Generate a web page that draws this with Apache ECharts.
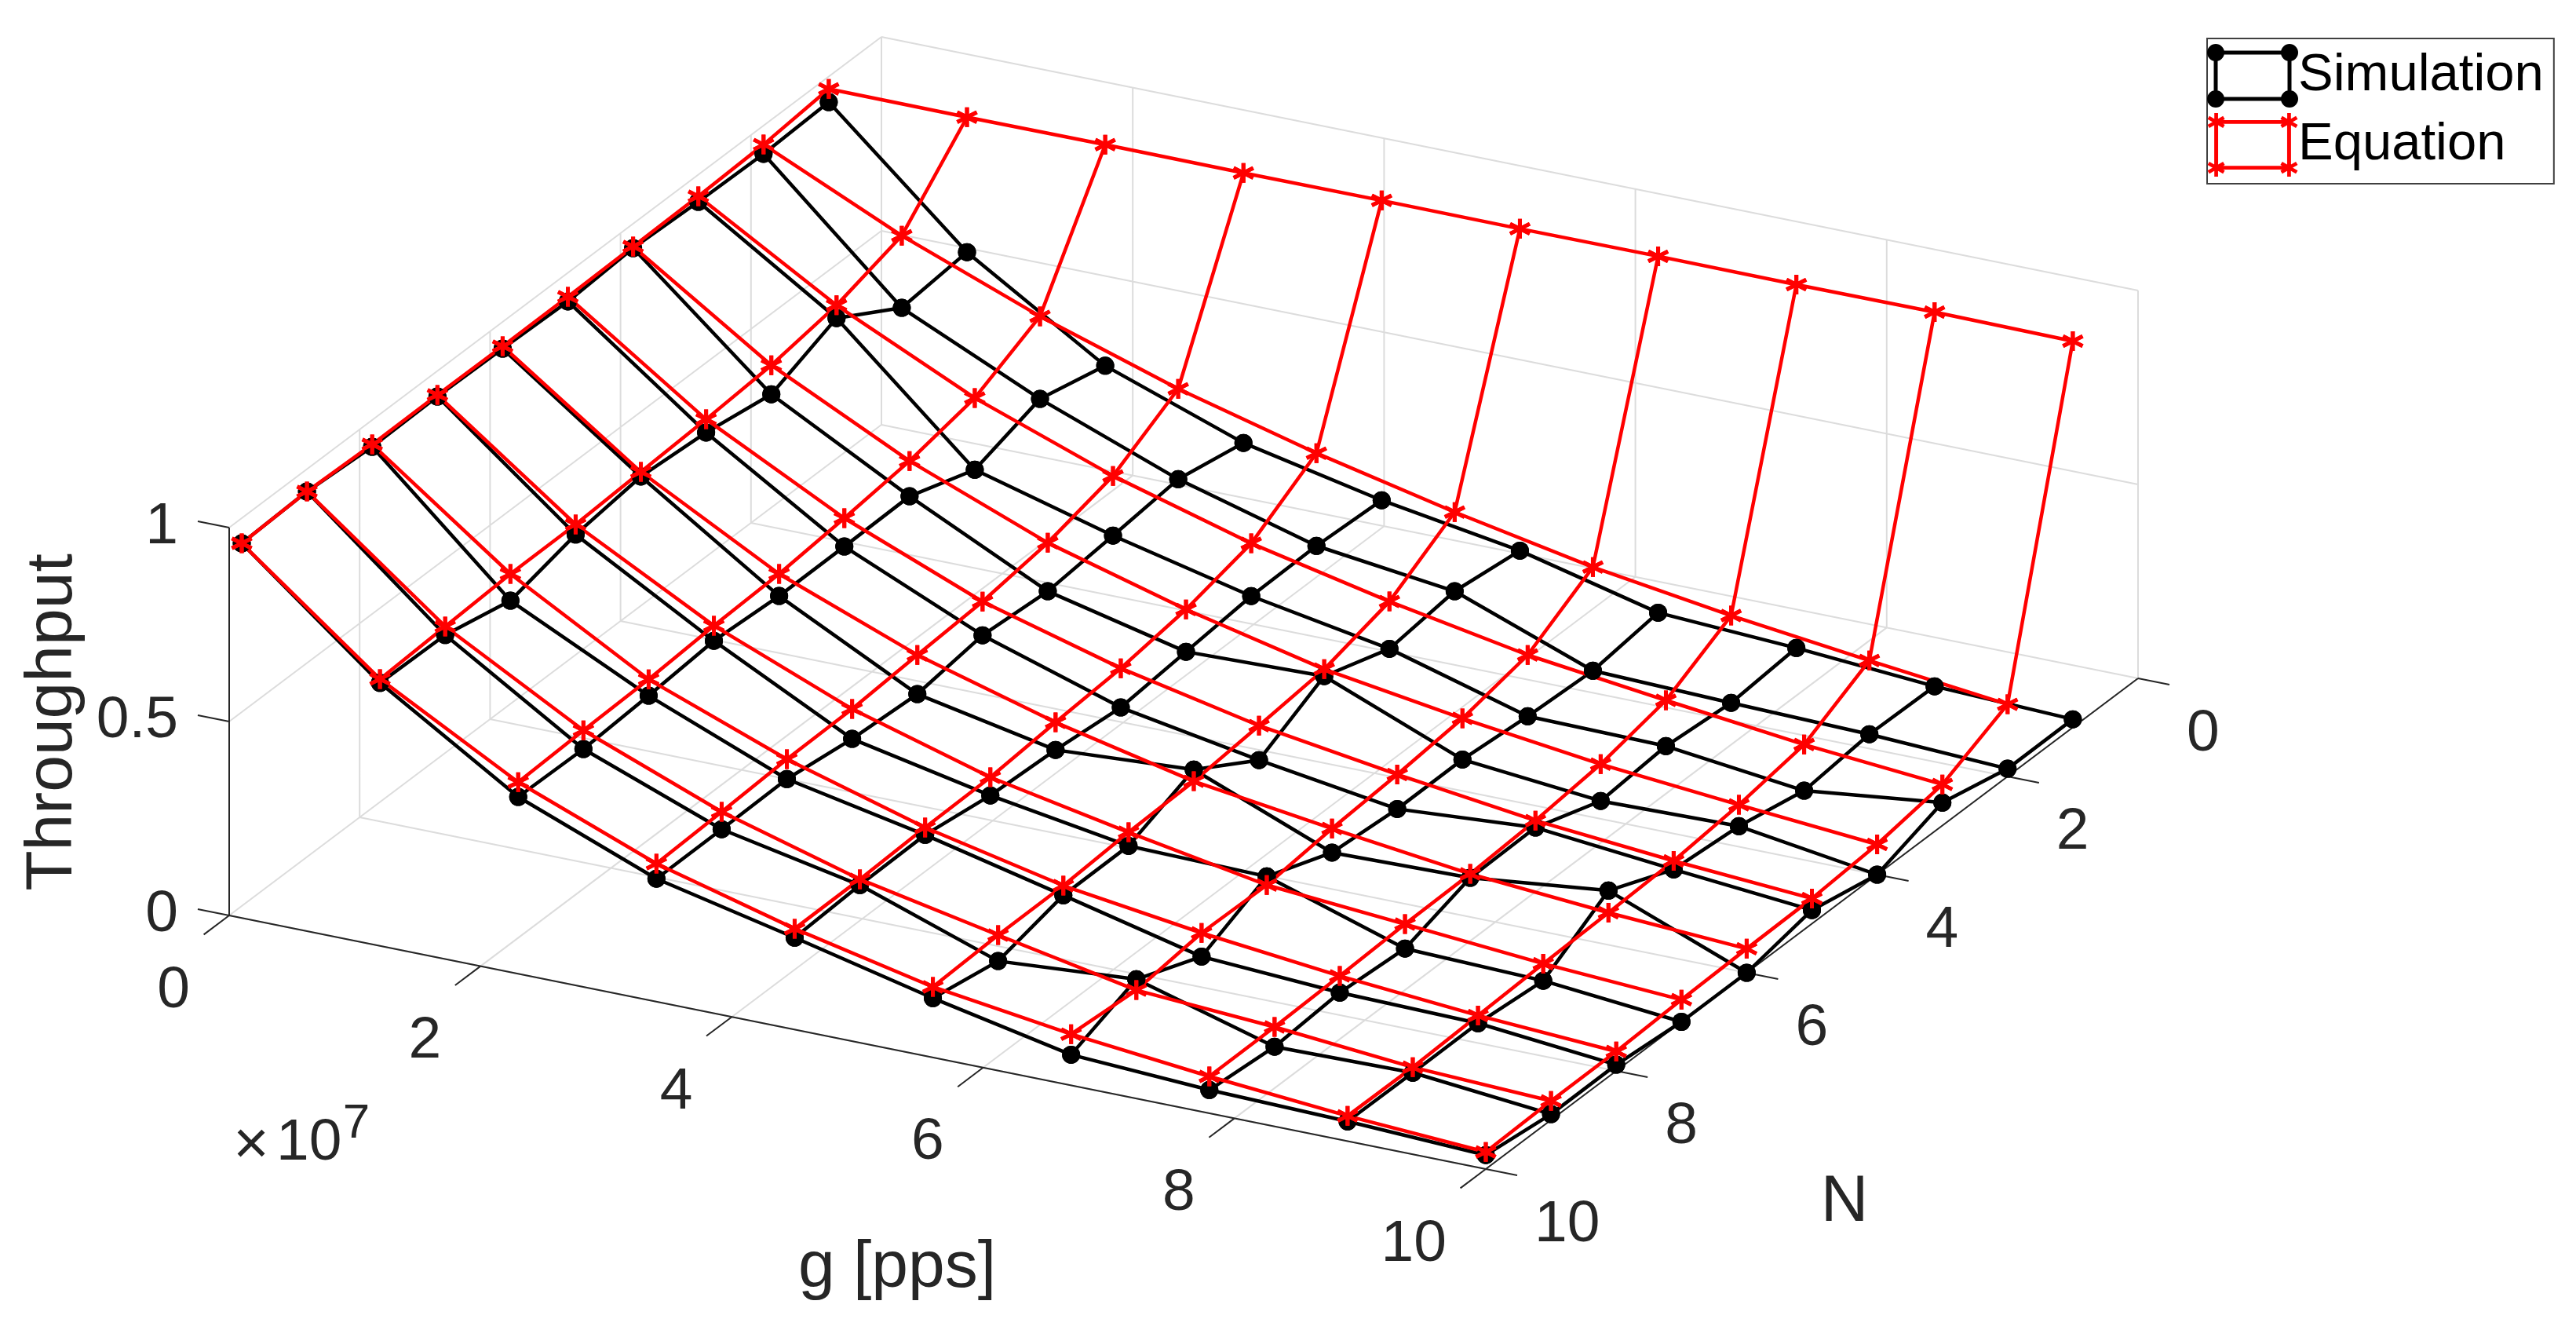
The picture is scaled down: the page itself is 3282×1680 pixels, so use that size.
<!DOCTYPE html>
<html>
<head>
<meta charset="utf-8">
<title>Throughput</title>
<script src="https://cdn.jsdelivr.net/npm/echarts@6/dist/echarts.min.js"></script>
<style>
  html, body { margin: 0; padding: 0; background: #fff; }
  #chart { width: 3282px; height: 1680px; }
</style>
</head>
<body>
<div id="chart"></div>
<script>
// axis ticks
const gTicks = [0, 2, 4, 6, 8, 10];
const nTicks = [0, 2, 4, 6, 8, 10];
const zTicks = [0, 0.5, 1];

// sample positions of the mesh (g in units of 1e7 pps)
const gSamples = [0.1, 1.2, 2.3, 3.4, 4.5, 5.6, 6.7, 7.8, 8.9, 10];
const nSamples = [10, 9, 8, 7, 6, 5, 4, 3, 2, 1];

// throughput, one list per g sample, in nSamples order
const simG01 = [0.966, 0.973, 0.962, 0.965, 0.962, 0.957, 0.968, 0.961, 0.958, 0.965];
const simG12 = [0.678, 0.675, 0.637, 0.681, 0.704, 0.691, 0.663, 0.733, 0.633, 0.650];
const simG23 = [0.456, 0.453, 0.464, 0.479, 0.468, 0.469, 0.472, 0.414, 0.470, 0.429];
const simG34 = [0.317, 0.318, 0.321, 0.298, 0.287, 0.312, 0.299, 0.316, 0.335, 0.302];
const simG45 = [0.237, 0.246, 0.249, 0.224, 0.215, 0.198, 0.215, 0.232, 0.235, 0.226];
const simG56 = [0.153, 0.122, 0.165, 0.166, 0.236, 0.134, 0.224, 0.168, 0.190, 0.168];
const simG67 = [0.079, 0.147, 0.079, 0.159, 0.094, 0.080, 0.081, 0.066, 0.057, 0.080];
const simG78 = [0.060, 0.045, 0.058, 0.045, 0.101, 0.104, 0.046, 0.061, 0.046, 0.061];
const simG89 = [0.051, 0.050, 0.051, 0.034, 0.140, 0.068, 0.053, 0.018, 0.037, 0.034];
const simG100 = [0.036, 0.015, 0.016, 0.000, 0.000, 0.035, 0.000, 0.059, 0.020, 0.021];

const eqG01 = [0.966, 0.973, 0.968, 0.969, 0.968, 0.969, 0.972, 0.975, 0.982, 0.999];
const eqG12 = [0.688, 0.697, 0.706, 0.707, 0.716, 0.725, 0.738, 0.766, 0.819, 0.998];
const eqG23 = [0.494, 0.501, 0.506, 0.518, 0.525, 0.542, 0.563, 0.599, 0.683, 0.999];
const eqG34 = [0.356, 0.363, 0.372, 0.375, 0.388, 0.399, 0.424, 0.470, 0.568, 0.998];
const eqG45 = [0.260, 0.261, 0.268, 0.271, 0.286, 0.299, 0.324, 0.368, 0.474, 0.999];
const eqG56 = [0.182, 0.189, 0.190, 0.201, 0.206, 0.223, 0.242, 0.290, 0.394, 0.998];
const eqG67 = [0.132, 0.119, 0.140, 0.137, 0.156, 0.169, 0.187, 0.224, 0.324, 0.999];
const eqG78 = [0.095, 0.096, 0.101, 0.108, 0.111, 0.122, 0.141, 0.179, 0.271, 0.998];
const eqG89 = [0.065, 0.064, 0.071, 0.078, 0.083, 0.090, 0.108, 0.137, 0.227, 0.999];
const eqG100 = [0.044, 0.049, 0.050, 0.057, 0.062, 0.065, 0.078, 0.106, 0.186, 0.996];

const simulation = [simG01, simG12, simG23, simG34, simG45, simG56, simG67, simG78, simG89, simG100];
const equation = [eqG01, eqG12, eqG23, eqG34, eqG45, eqG56, eqG67, eqG78, eqG89, eqG100];

const BREAK = [null, null];
const FONT = '"Liberation Sans", Arial, sans-serif';
const DARK = '#262626';
const GRID = '#dcdcdc';

// orthographic view of the 3D box onto the page
function project(g, n, z) {
  return [
    292 + 160.1 * g + 83.1 * (10 - n),
    1166 + 32.3 * g - 62.5 * (10 - n) - 494 * z,
  ];
}

// mesh lines along g and along N, with gaps between them
function meshLines(values) {
  const pts = [];
  nSamples.forEach((n, j) => {
    gSamples.forEach((g, i) => pts.push(project(g, n, values[i][j])));
    pts.push(BREAK);
  });
  gSamples.forEach((g, i) => {
    nSamples.forEach((n, j) => pts.push(project(g, n, values[i][j])));
    pts.push(BREAK);
  });
  return pts;
}

function segments(list) {
  const pts = [];
  list.forEach((s) => pts.push(project(...s[0]), project(...s[1]), BREAK));
  return pts;
}

const gridSegs = [];
gTicks.forEach((g) => {
  gridSegs.push([[g, 0, 0], [g, 10, 0]]);
  gridSegs.push([[g, 0, 0], [g, 0, 1]]);
});
nTicks.forEach((n) => {
  gridSegs.push([[0, n, 0], [10, n, 0]]);
  gridSegs.push([[0, n, 0], [0, n, 1]]);
});
zTicks.forEach((z) => {
  gridSegs.push([[0, 0, z], [10, 0, z]]);
  gridSegs.push([[0, 0, z], [0, 10, z]]);
});

const axisSegs = [
  [[0, 10, 0], [10, 10, 0]],
  [[10, 10, 0], [10, 0, 0]],
  [[0, 10, 0], [0, 10, 1]],
];
gTicks.forEach((g) => axisSegs.push([[g, 10, 0], [g, 10.39, 0]]));
nTicks.forEach((n) => axisSegs.push([[10, n, 0], [10.25, n, 0]]));
zTicks.forEach((z) => axisSegs.push([[0, 10, z], [-0.25, 10, z]]));

function text(pos, str, opt) {
  return {
    value: pos,
    label: Object.assign({ formatter: str, fontSize: 75, color: DARK, align: 'center' }, opt || {}),
  };
}

function shift(p, dx, dy) {
  return [p[0] + dx, p[1] + dy];
}

const labels = [];
gTicks.forEach((g) => labels.push(text(shift(project(g, 10, 0), -50, 96), String(g), { align: 'right' })));
nTicks.forEach((n) => labels.push(text(shift(project(10, n, 0), 62, 71), String(n), { align: 'left' })));
zTicks.forEach((z) => labels.push(text(shift(project(0, 10, z), -65, -1), String(z), { align: 'right' })));
labels.push(text([320, 1460], '×', { fontSize: 78 }));
labels.push(text([352, 1456], '10', { align: 'left' }));
labels.push(text([454, 1432], '7', { fontSize: 62 }));
labels.push(text([1143, 1616], 'g [pps]', { fontSize: 84 }));
labels.push(text([2350, 1532], 'N', { fontSize: 84 }));
labels.push(text([68, 920], 'Throughput', { fontSize: 84, rotate: 90 }));

// black dots that sit above the red surface are drawn last
const simOnTop = [];
gSamples.forEach((g, i) => {
  nSamples.forEach((n, j) => {
    if (simulation[i][j] > equation[i][j]) simOnTop.push(project(g, n, simulation[i][j]));
  });
});

const STAR = 'path://M12 0V24M1.6 6L22.4 18M1.6 18L22.4 6';

// legend icon: a small mesh cell with a marker on each corner
function cellIcon(red) {
  const w = 116, h = 81, r = 11, t = 2.5;
  const corners = [[r, r], [w - r, r], [r, h - r], [w - r, h - r]];
  let d = `M${r - t} ${r - t}H${w - r + t}V${h - r + t}H${r - t}Z`;
  d += `M${r + t} ${r + t}V${h - r - t}H${w - r - t}V${r + t}Z`;
  corners.forEach((c) => {
    if (red) {
      [0, 60, 120].forEach((a) => {
        const ca = Math.cos((a * Math.PI) / 180), sa = Math.sin((a * Math.PI) / 180);
        const L = 11.5, W = 2.4;
        const p = [[-L, W], [L, W], [L, -W], [-L, -W]].map((q) => [
          c[0] + q[0] * sa - q[1] * ca,
          c[1] - q[0] * ca - q[1] * sa,
        ]);
        d += 'M' + p.map((q) => q[0].toFixed(2) + ' ' + q[1].toFixed(2)).join('L') + 'Z';
      });
    } else {
      d += `M${c[0] - r} ${c[1]}A${r} ${r} 0 1 1 ${c[0] + r} ${c[1]}A${r} ${r} 0 1 1 ${c[0] - r} ${c[1]}Z`;
    }
  });
  return 'path://' + d;
}

const option = {
  animation: false,
  backgroundColor: '#fff',
  textStyle: { fontFamily: FONT },
  grid: { left: 0, right: 0, top: 0, bottom: 0 },
  xAxis: { type: 'value', min: 0, max: 3282, show: false },
  yAxis: { type: 'value', min: 0, max: 1680, inverse: true, show: false },
  legend: {
    left: 2812,
    top: 49,
    orient: 'vertical',
    padding: [7, 13, 9, 0],
    itemGap: 7,
    itemWidth: 116,
    itemHeight: 81,
    borderColor: '#404040',
    borderWidth: 2,
    selectedMode: false,
    textStyle: { fontSize: 67, color: '#000', fontFamily: FONT, padding: [16, 0, 0, -5] },
    data: [
      { name: 'Simulation', icon: cellIcon(false), itemStyle: { color: '#000', borderWidth: 0 } },
      { name: 'Equation', icon: cellIcon(true), itemStyle: { color: '#f00', borderWidth: 0 } },
    ],
  },
  series: [
    {
      type: 'line',
      data: segments(gridSegs),
      silent: true,
      symbol: 'none',
      lineStyle: { color: GRID, width: 2 },
    },
    {
      type: 'line',
      data: segments(axisSegs),
      silent: true,
      symbol: 'none',
      lineStyle: { color: DARK, width: 2 },
    },
    {
      name: 'Simulation',
      type: 'line',
      data: meshLines(simulation),
      showAllSymbol: true,
      symbol: 'circle',
      symbolSize: 23,
      itemStyle: { color: '#000' },
      lineStyle: { color: '#000', width: 4.5 },
    },
    {
      name: 'Equation',
      type: 'line',
      data: meshLines(equation),
      showAllSymbol: true,
      symbol: STAR,
      symbolSize: 25,
      itemStyle: { color: '#f00', borderColor: '#f00', borderWidth: 5 },
      lineStyle: { color: '#f00', width: 4.5 },
    },
    {
      name: 'Simulation',
      type: 'scatter',
      data: simOnTop,
      symbol: 'circle',
      symbolSize: 23,
      itemStyle: { color: '#000', opacity: 1 },
    },
    {
      type: 'scatter',
      data: labels,
      silent: true,
      symbolSize: 1,
      itemStyle: { color: 'rgba(0,0,0,0)', opacity: 1 },
      label: { show: true, position: 'inside', verticalAlign: 'middle', fontFamily: FONT },
    },
  ],
};

const chart = echarts.init(document.getElementById('chart'));
chart.setOption(option);
</script>
</body>
</html>
